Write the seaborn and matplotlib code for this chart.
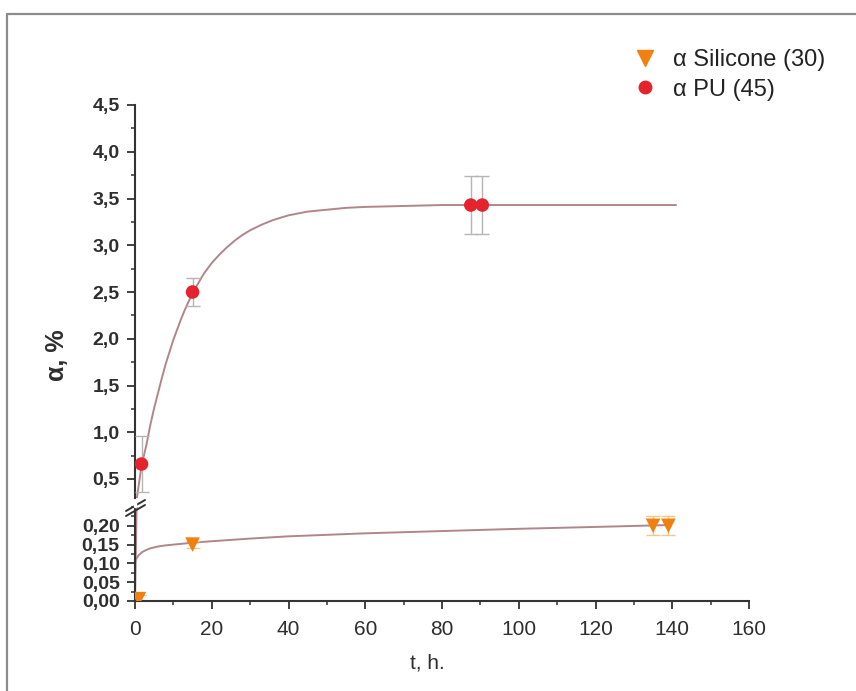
import numpy as np
import pandas as pd
import matplotlib
matplotlib.use("Agg")
import matplotlib.pyplot as plt
from matplotlib.ticker import MultipleLocator
from matplotlib.lines import Line2D
import seaborn as sns

# ---- data ----
pu_t = [1.7, 15.0, 87.5, 90.5]
pu_a = [0.66, 2.50, 3.43, 3.43]
pu_err = [0.30, 0.15, 0.31, 0.31]

si_t = [1.0, 15.0, 135.0, 139.0]
si_a = [0.005, 0.150, 0.200, 0.200]
si_err = [0.010, 0.010, 0.025, 0.025]

# fitted curves
pu_fit_t = [0, 0.5, 1.7, 3, 4, 5, 6, 7, 8, 9, 10, 11, 12, 13, 14, 15, 16, 17, 18,
            20, 22, 24, 26, 28, 30, 33, 36, 40, 45, 50, 55, 60, 70, 80, 100, 120, 141]
pu_fit_a = [0.0, 0.30, 0.64, 0.87, 1.08, 1.26, 1.42, 1.58, 1.73, 1.86, 1.99, 2.10,
            2.21, 2.31, 2.40, 2.49, 2.56, 2.63, 2.70, 2.81, 2.90, 2.98, 3.05, 3.11,
            3.16, 3.22, 3.27, 3.32, 3.36, 3.38, 3.40, 3.41, 3.42, 3.43, 3.43, 3.43, 3.43]

si_fit_t = [0, 0.01, 0.5, 1, 2, 3, 4, 6, 8, 10, 15, 20, 30, 40, 60, 80, 100, 120, 139]
si_fit_a = [0.0, 0.105, 0.115, 0.122, 0.131, 0.136, 0.140, 0.145, 0.148, 0.150,
            0.155, 0.159, 0.166, 0.172, 0.180, 0.186, 0.192, 0.197, 0.202]

x_ticks = [0, 20, 40, 60, 80, 100, 120, 140, 160]
upper_yticks = [0.5, 1.0, 1.5, 2.0, 2.5, 3.0, 3.5, 4.0, 4.5]
lower_yticks = [0.00, 0.05, 0.10, 0.15, 0.20]
legend_labels = ["α Silicone (30)", "α PU (45)"]
xlabel = "t, h."
ylabel = "α, %"

# ---- styling ----
sns.set_style("ticks")
plt.rcParams["font.family"] = ["Liberation Sans", "DejaVu Sans"]

W, H = 856, 691
fig = plt.figure(figsize=(W / 100, H / 100), dpi=100)

def fx(px):
    return px / W

def fy(py):
    return 1 - py / H

left = fx(135)
width = fx(749) - left
ax_up = fig.add_axes([left, fy(497.7), width, fy(105) - fy(497.7)])
ax_lo = fig.add_axes([left, fy(601), width, fy(507) - fy(601)])

pu_col = "#e5232c"
si_col = "#f08010"
fit_col = "#b0868b"
err_col = "#b5b5b5"
spine_col = "#333333"
txt_col = "#2e2e2e"

pu_fit = pd.DataFrame({"t": pu_fit_t, "a": pu_fit_a})
si_fit = pd.DataFrame({"t": si_fit_t, "a": si_fit_a})
pu_df = pd.DataFrame({"t": pu_t, "a": pu_a})
si_df = pd.DataFrame({"t": si_t, "a": si_a})

for ax in (ax_up, ax_lo):
    sns.lineplot(data=pu_fit, x="t", y="a", ax=ax, color=fit_col, lw=1.4,
                 sort=False, zorder=2)
    sns.lineplot(data=si_fit, x="t", y="a", ax=ax, color=fit_col, lw=1.4,
                 sort=False, zorder=2)
    ax.errorbar(pu_t, pu_a, yerr=pu_err, fmt="none", ecolor=err_col,
                elinewidth=1.0, capsize=5, capthick=1.0, zorder=3)
    ax.errorbar(si_t, si_a, yerr=si_err, fmt="none", ecolor="#f5c58a",
                elinewidth=1.0, capsize=5, capthick=1.0, zorder=3)
    sns.scatterplot(data=pu_df, x="t", y="a", ax=ax, color=pu_col, s=95,
                    marker="o", edgecolor="none", zorder=4)
    sns.scatterplot(data=si_df, x="t", y="a", ax=ax, color=si_col, s=110,
                    marker="v", edgecolor="none", zorder=4)
    ax.set_xlim(0, 160)
    ax.set_xlabel("")
    ax.set_ylabel("")
    ax.spines["top"].set_visible(False)
    ax.spines["right"].set_visible(False)
    for s in ("left", "bottom"):
        ax.spines[s].set_color(spine_col)
        ax.spines[s].set_linewidth(1.5)
    ax.tick_params(axis="both", which="major", direction="out", length=6,
                   width=1.3, color=spine_col, labelcolor=txt_col)
    ax.tick_params(axis="both", which="minor", direction="out", length=3,
                   width=1.1, color=spine_col)
    ax.tick_params(axis="y", which="major", labelsize=14, pad=5)
    ax.patch.set_alpha(0)

ax_up.set_ylim(0.3, 4.5)
ax_up.set_yticks(upper_yticks)
ax_up.set_yticklabels([f"{v:.1f}".replace(".", ",") for v in upper_yticks],
                      fontweight="bold")
ax_up.yaxis.set_minor_locator(MultipleLocator(0.25))
ax_up.spines["bottom"].set_visible(False)
ax_up.tick_params(axis="x", which="both", bottom=False, labelbottom=False)

ax_lo.set_ylim(0, 0.25)
ax_lo.set_yticks(lower_yticks)
ax_lo.set_yticklabels([f"{v:.2f}".replace(".", ",") for v in lower_yticks],
                      fontweight="bold")
ax_lo.yaxis.set_minor_locator(MultipleLocator(0.025))
ax_lo.set_xticks(x_ticks)
ax_lo.set_xticklabels([str(v) for v in x_ticks])
ax_lo.xaxis.set_minor_locator(MultipleLocator(10))
ax_lo.tick_params(axis="x", which="major", pad=8, labelsize=15)

# break marks on the y axis
for dy in (0, 5):
    fig.add_artist(Line2D([fx(126), fx(145)], [fy(511 + dy), fy(500 + dy)],
                          color=spine_col, lw=1.4))
fig.add_artist(Line2D([fx(135), fx(135)], [fy(502.5), fy(506)],
                      color="white", lw=2.5))

# labels
fig.text(fx(427), fy(663), xlabel, ha="center", va="center", fontsize=15,
         color=txt_col)
fig.text(fx(57), fy(355), ylabel, ha="center", va="center", fontsize=18,
         rotation=90, fontweight="bold", color=txt_col)

# legend
handles = [
    Line2D([], [], marker="v", color=si_col, ls="none", markersize=11),
    Line2D([], [], marker="o", color=pu_col, ls="none", markersize=9),
]
fig.legend(handles, legend_labels, loc="upper left",
           bbox_to_anchor=(fx(621), fy(40)), frameon=False, fontsize=17,
           handletextpad=0.6, labelspacing=0.3, borderaxespad=0,
           handlelength=1.2, labelcolor="#222222")

# outer frame
fig.add_artist(Line2D([fx(7.5), fx(7.5)], [0, fy(14)], color="#8c8c8c", lw=1.6))
fig.add_artist(Line2D([fx(7.5), 1], [fy(14), fy(14)], color="#8c8c8c", lw=1.6))

fig.savefig("out.png", dpi=100)
